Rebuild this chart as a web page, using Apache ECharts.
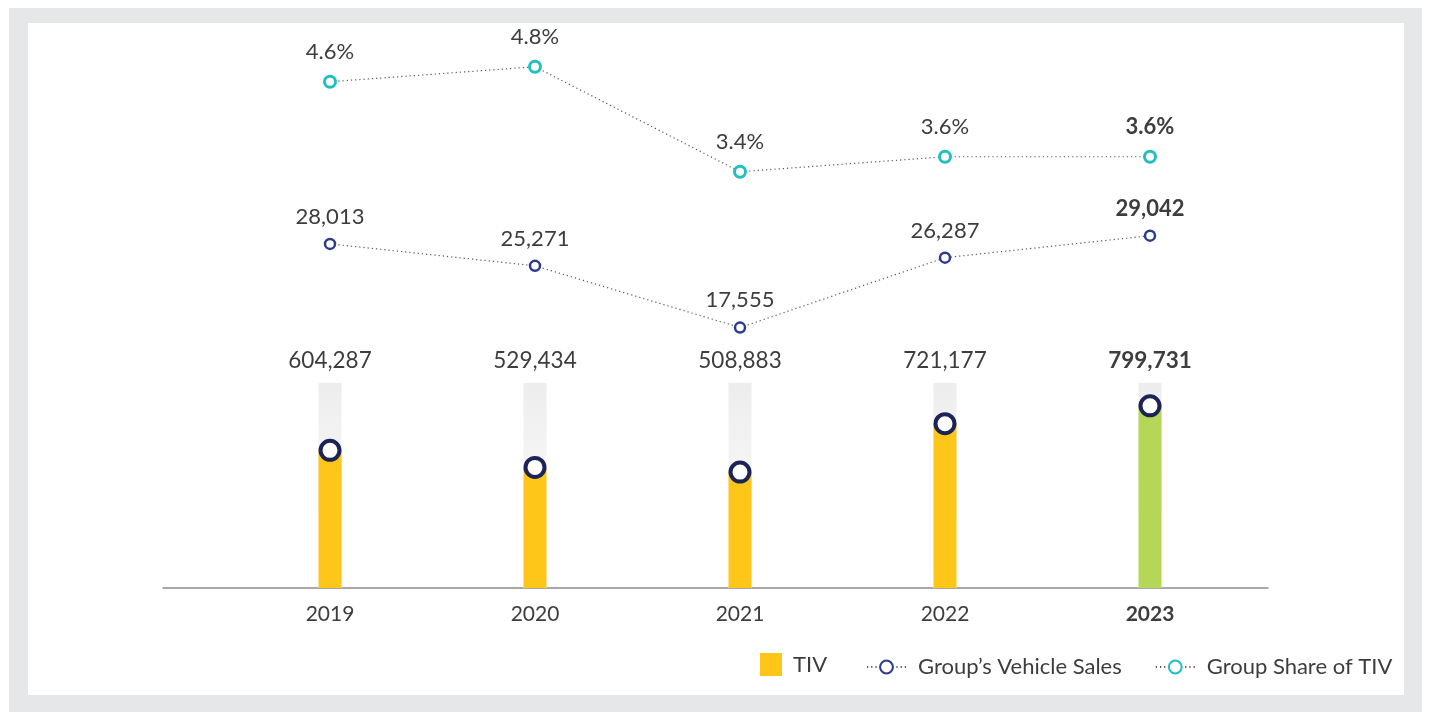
<!DOCTYPE html>
<html>
<head>
<meta charset="utf-8">
<script src="https://cdn.jsdelivr.net/npm/echarts@6/dist/echarts.min.js"></script>
<style>
	body { margin: 0; background: #fff; }
	#frame { position: absolute; left: 9px; top: 8px; width: 1413px; height: 704px; background: #e6e7e8; }
	#panel { position: absolute; left: 28px; top: 23px; width: 1376px; height: 672px; background: #fff; }
	#chart { position: absolute; left: 0; top: 0; width: 1430px; height: 712px; }
</style>
</head>
<body>
<div id="frame"></div>
<div id="panel"></div>
<div id="chart"></div>
<script>
var years = ["2019", "2020", "2021", "2022", "2023"];
var tiv = [604287, 529434, 508883, 721177, 799731];
var vehicleSales = [28013, 25271, 17555, 26287, 29042];
var shareOfTiv = [4.6, 4.8, 3.4, 3.6, 3.6];

var FONT = "Lato";
var TEXT = "#3d3d3d";
var last = years.length - 1;

function fmt(n) {
	return n.toLocaleString("en-US");
}

var chart = echarts.init(document.getElementById("chart"));

var barBg = new echarts.graphic.LinearGradient(0, 0, 0, 1, [
	{ offset: 0, color: "#ededed" },
	{ offset: 0.7, color: "#fbfbfb" },
	{ offset: 1, color: "#ffffff" }
]);

var dotted = { color: "#555555", width: 1.2, type: [1.2, 3] };

var option = {
	animation: false,
	textStyle: { fontFamily: FONT },
	legend: [{
		data: ["TIV"],
		left: 755,
		top: 648,
		itemWidth: 22,
		itemHeight: 23,
		icon: "rect",
		textStyle: { fontFamily: FONT, fontSize: 22, color: TEXT, padding: [0, 0, 0, 6] }
	}, {
		data: ["Group\u2019s Vehicle Sales", "Group Share of TIV"],
		left: 861,
		top: 651,
		itemWidth: 39,
		itemHeight: 16,
		itemGap: 33,
		textStyle: { fontFamily: FONT, fontSize: 22, color: TEXT, padding: [0, 0, 0, 7] }
	}],
	grid: [
		{ left: 227.5, right: 177.5, top: 383, bottom: 124 },
		{ left: 227.5, right: 177.5, top: 0, bottom: 124 },
		{ left: 163, right: 162, top: 383, bottom: 124 }
	],
	xAxis: [{
		type: "category",
		gridIndex: 0,
		data: years,
		axisLine: { show: false },
		axisTick: { show: false },
		axisLabel: {
			margin: 16,
			fontSize: 21,
			color: TEXT,
			fontFamily: FONT,
			formatter: function (v, i) {
				return i === last ? "{b|" + v + "}" : v;
			},
			rich: { b: { fontWeight: "bold", fontSize: 21, color: TEXT, fontFamily: FONT } }
		}
	}, {
		type: "category",
		gridIndex: 0,
		position: "top",
		data: tiv.map(fmt),
		axisLine: { show: false },
		axisTick: { show: false },
		axisLabel: {
			margin: 11,
			fontSize: 22.5,
			color: TEXT,
			fontFamily: FONT,
			formatter: function (v, i) {
				return i === last ? "{b|" + v + "}" : v;
			},
			rich: { b: { fontWeight: "bold", fontSize: 22.5, color: TEXT, fontFamily: FONT } }
		}
	}, {
		type: "category",
		gridIndex: 1,
		data: years,
		show: false
	}, {
		type: "value",
		gridIndex: 2,
		min: 0,
		max: 1,
		axisLine: { show: true, onZero: false, lineStyle: { color: "#8c8c8c", width: 1.5 } },
		axisTick: { show: false },
		axisLabel: { show: false },
		splitLine: { show: false }
	}],
	yAxis: [
		{ type: "value", gridIndex: 0, min: 0, max: 900000, show: false },
		{ type: "value", gridIndex: 1, min: -15000, max: 58500, show: false },
		{ type: "value", gridIndex: 1, min: -2.15, max: 5.69, show: false },
		{ type: "value", gridIndex: 2, min: 0, max: 1, show: false }
	],
	series: [{
		name: "TIV",
		type: "bar",
		xAxisIndex: 0,
		yAxisIndex: 0,
		barWidth: 23,
		showBackground: true,
		backgroundStyle: { color: barBg },
		itemStyle: { color: "#fdc619" },
		data: tiv.map(function (v, i) {
			return i === last ? { value: v, itemStyle: { color: "#b6d657" } } : v;
		})
	}, {
		name: "TIV marker",
		type: "scatter",
		xAxisIndex: 0,
		yAxisIndex: 0,
		symbol: "circle",
		symbolSize: 19,
		itemStyle: { color: "#ffffff", borderColor: "#1c2457", borderWidth: 4, opacity: 1 },
		data: tiv,
		z: 5
	}, {
		name: "Group\u2019s Vehicle Sales",
		type: "line",
		xAxisIndex: 2,
		yAxisIndex: 1,
		symbol: "circle",
		symbolSize: 10,
		itemStyle: { color: "#ffffff", borderColor: "#2c3a8e", borderWidth: 2.5 },
		lineStyle: dotted,
		label: {
			show: true,
			position: "top",
			distance: 10,
			fontSize: 22,
			color: TEXT,
			fontFamily: FONT,
			formatter: function (p) { return fmt(p.value); }
		},
		data: vehicleSales.map(function (v, i) {
			return i === last ? { value: v, label: { fontWeight: "bold" } } : v;
		})
	}, {
		name: "Group Share of TIV",
		type: "line",
		xAxisIndex: 2,
		yAxisIndex: 2,
		symbol: "circle",
		symbolSize: 11,
		itemStyle: { color: "#ffffff", borderColor: "#22bfc0", borderWidth: 3 },
		lineStyle: dotted,
		label: {
			show: true,
			position: "top",
			distance: 12,
			fontSize: 22,
			color: TEXT,
			fontFamily: FONT,
			formatter: function (p) { return p.value.toFixed(1) + "%"; }
		},
		data: shareOfTiv.map(function (v, i) {
			return i === last ? { value: v, label: { fontWeight: "bold" } } : v;
		})
	}]
};

chart.setOption(option);
</script>
</body>
</html>
